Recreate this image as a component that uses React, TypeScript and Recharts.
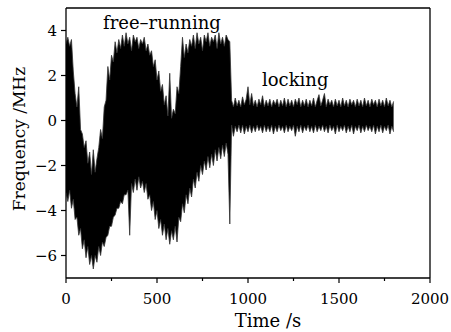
import React from "react";
import { ComposedChart, Area, XAxis, YAxis, ReferenceLine } from "recharts";

// sampling interval of the recorded trace (s)
const STEP = 10;

// free-running: envelope of the trace, t = 0 ... 900 s
const freeHigh = [
  3.4, 3.7, 3.3, 3.6, 2.2, 1.2, 0.6, 1.5, -0.4, -0.6,
  -1.2, -0.9, -1.9, -1.4, -2.4, -1.3, -2.3, -1.7, -1.2, -0.4,
  -0.8, 0.6, 0.9, 2.4, 1.8, 2.9, 2.6, 3.5, 3.0, 3.6,
  3.2, 3.8, 3.3, 3.9, 3.4, 3.7, 3.1, 3.8, 3.5, 3.7,
  3.2, 3.6, 3.4, 3.7, 3.1, 3.4, 2.9, 3.1, 2.4, 2.7,
  1.8, 2.2, 1.3, 1.6, 0.7, 1.1, 0.2, 2.1, 0.1, 0.5,
  0.3, 1.5, 1.2, 2.4, 3.7, 2.8, 3.4, 3.0, 3.6, 3.3,
  3.8, 3.2, 3.9, 3.4, 3.7, 3.1, 3.8, 3.5, 3.9, 3.3,
  3.7, 3.5, 3.8, 3.2, 3.9, 3.4, 3.7, 3.3, 3.8, 3.6,
  3.5,
];
const freeLow = [
  -3.2, -3.6, -3.1, -3.9, -3.5, -4.4, -4.3, -5.1, -4.8, -5.7,
  -5.3, -6.1, -5.6, -6.4, -6.0, -6.6, -6.0, -6.3, -5.6, -6.0,
  -5.4, -5.6, -5.2, -5.1, -4.7, -4.7, -4.3, -4.2, -3.9, -3.9,
  -3.6, -3.7, -3.3, -3.3, -3.1, -5.1, -2.8, -3.2, -2.6, -3.1,
  -2.5, -3.0, -2.7, -3.2, -2.8, -3.5, -3.3, -4.0, -3.6, -4.4,
  -4.0, -4.8, -4.4, -5.1, -4.6, -5.3, -4.8, -5.5, -4.9, -5.3,
  -4.7, -5.4, -4.3, -4.5, -3.7, -4.1, -3.3, -3.7, -3.0, -3.4,
  -2.6, -3.0, -2.3, -2.7, -2.0, -2.4, -1.8, -2.2, -1.6, -2.1,
  -1.5, -2.0, -1.3, -1.8, -1.2, -1.7, -1.1, -1.6, -1.0, -1.5,
  -4.6,
];

// locking: envelope of the trace, t = 910 ... 1800 s
const lockHigh = [
  0.9, 0.6, 1.0, 0.65, 0.9, 0.6, 1.05, 0.7, 0.95, 1.5,
  0.7, 1.2, 0.65, 0.9, 0.6, 0.95, 0.7, 1.1, 0.6, 0.9,
  0.65, 0.95, 0.6, 0.9, 0.7, 0.95, 0.6, 0.9, 0.65, 1.0,
  0.6, 0.95, 0.65, 0.9, 0.6, 0.95, 0.7, 1.0, 0.6, 0.9,
  0.65, 0.95, 0.6, 0.9, 0.65, 1.0, 0.6, 0.9, 1.15, 0.65,
  0.9, 1.2, 0.6, 0.95, 0.7, 0.9, 0.6, 0.95, 0.65, 0.9,
  0.6, 1.0, 0.65, 0.9, 0.6, 0.95, 0.7, 0.9, 0.6, 0.95,
  0.65, 0.9, 0.6, 1.0, 0.65, 0.9, 0.6, 0.95, 0.7, 0.9,
  0.6, 0.95, 0.65, 0.9, 0.6, 1.0, 0.65, 0.9, 0.6, 0.85,
];
const lockLow = [
  -0.2, -0.7, -0.25, -0.5, -0.2, -0.55, -0.2, -0.6, -0.25, -0.5,
  -0.2, -0.55, -0.25, -0.5, -0.2, -0.45, -0.25, -0.55, -0.2, -0.5,
  -0.25, -0.5, -0.2, -0.6, -0.25, -0.5, -0.2, -0.45, -0.25, -0.55,
  -0.2, -0.5, -0.25, -0.45, -0.2, -0.7, -0.25, -0.5, -0.2, -0.55,
  -0.25, -0.45, -0.2, -0.5, -0.25, -0.55, -0.2, -0.5, -0.25, -0.45,
  -0.2, -0.5, -0.25, -0.55, -0.2, -0.45, -0.25, -0.6, -0.2, -0.5,
  -0.25, -0.45, -0.2, -0.55, -0.25, -0.5, -0.2, -0.6, -0.25, -0.45,
  -0.2, -0.55, -0.25, -0.5, -0.2, -0.45, -0.25, -0.5, -0.2, -0.6,
  -0.25, -0.5, -0.2, -0.55, -0.25, -0.45, -0.2, -0.6, -0.25, -0.5,
];
const LOCK_START = 910;

const xTicks = [0, 250, 500, 750, 1000, 1250, 1500, 1750, 2000];
const xLabels = [0, 500, 1000, 1500, 2000];
const yTicks = [-6, -5, -4, -3, -2, -1, 0, 1, 2, 3, 4];
const yLabels = [-6, -4, -2, 0, 2, 4];

const data = [
  ...freeHigh.map((h, i) => ({ t: i * STEP, band: [freeLow[i], h] })),
  ...lockHigh.map((h, i) => ({ t: LOCK_START + i * STEP, band: [lockLow[i], h] })),
];

const FONT = "'DejaVu Serif', serif";

const XTick = (props: any) => {
  const { x, y, payload } = props;
  const major = xLabels.includes(payload.value);
  return (
    <g>
      <line x1={x} x2={x} y1={y} y2={y + (major ? 5 : 3)} stroke="#000" strokeWidth={1.2} />
      {major && (
        <text x={x} y={y + 26} textAnchor="middle" fontSize={15} fontFamily={FONT} fill="#000">
          {payload.value}
        </text>
      )}
    </g>
  );
};

const YTick = (props: any) => {
  const { x, y, payload } = props;
  const major = yLabels.includes(payload.value);
  const v = payload.value < 0 ? `\u2212${Math.abs(payload.value)}` : `${payload.value}`;
  return (
    <g>
      <line x1={x - (major ? 5 : 3)} x2={x} y1={y} y2={y} stroke="#000" strokeWidth={1.2} />
      {major && (
        <text x={x - 9} y={y + 5} textAnchor="end" fontSize={15} fontFamily={FONT} fill="#000">
          {v}
        </text>
      )}
    </g>
  );
};

export default function App() {
  return (
    <div style={{ position: "absolute", left: 0, top: 0, width: 451, height: 332, background: "#fff" }}>
      <ComposedChart width={451} height={332} data={data} margin={{ top: 8, right: 21, bottom: 0, left: 0 }}>
        <XAxis
          dataKey="t"
          type="number"
          domain={[0, 2000]}
          ticks={xTicks}
          allowDataOverflow
          height={54}
          tickSize={0}
          tickMargin={0}
          tick={<XTick />}
          axisLine={{ stroke: "#000", strokeWidth: 1.3 }}
        />
        <YAxis
          type="number"
          domain={[-7, 5]}
          ticks={yTicks}
          allowDataOverflow
          width={66}
          tickSize={0}
          tickMargin={0}
          tick={<YTick />}
          axisLine={{ stroke: "#000", strokeWidth: 1.3 }}
        />
        <Area
          dataKey="band"
          type="linear"
          stroke="#333"
          strokeWidth={0.8}
          fill="#000"
          fillOpacity={1}
          isAnimationActive={false}
          dot={false}
          activeDot={false}
        />
        <ReferenceLine y={5} stroke="#000" strokeWidth={1.3} />
        <ReferenceLine x={2000} stroke="#000" strokeWidth={1.3} />
      </ComposedChart>
      <svg width={451} height={332} style={{ position: "absolute", left: 0, top: 0, pointerEvents: "none" }}>
        <text x={103} y={29} fontSize={18} fontFamily={FONT} fill="#000">free–running</text>
        <text x={262} y={86} fontSize={18} fontFamily={FONT} fill="#000">locking</text>
        <text x={268} y={327} textAnchor="middle" fontSize={18} fontFamily={FONT} fill="#000">Time /s</text>
        <text
          x={25}
          y={139}
          textAnchor="middle"
          fontSize={17}
          fontFamily={FONT}
          fill="#000"
          transform="rotate(-90 25 139)"
        >
          Frequency /MHz
        </text>
      </svg>
    </div>
  );
}
